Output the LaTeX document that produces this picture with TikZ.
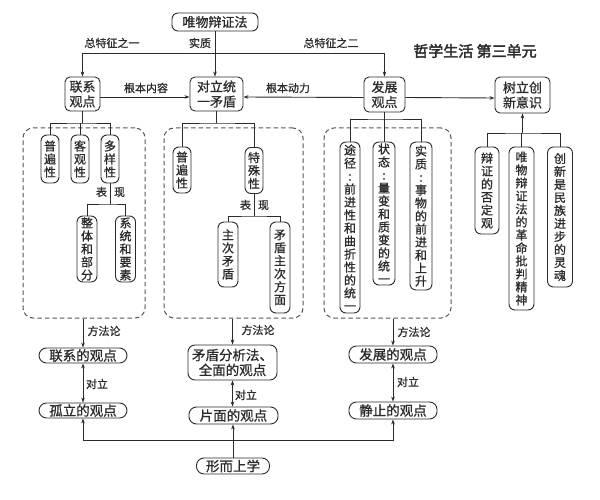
\documentclass[tikz,border=0pt]{standalone}
\usepackage{fontspec}
\setmainfont[FakeBold=0.9]{Noto Sans CJK SC}
\newfontfamily\titlefont[FakeBold=2.5]{Noto Sans CJK SC}
\usetikzlibrary{arrows.meta}
\definecolor{ink}{HTML}{2B2B2B}
\definecolor{dash}{HTML}{555555}
\begin{document}
\begin{tikzpicture}[x=1pt,y=-1pt,
  line width=0.9pt, draw=ink,
  arr/.style={draw=ink, -{Stealth[length=5pt,width=3.6pt]}},
  darr/.style={draw=ink, {Stealth[length=5pt,width=3.6pt]}-{Stealth[length=5pt,width=3.6pt]}},
  box/.style={draw=ink, rounded corners=5pt, inner sep=1pt, align=center, text=ink,
    font={\fontsize{13}{15}\selectfont}},
  vbox/.style={draw=ink, rounded corners=6pt, inner sep=1pt, align=center, text=ink,
    font={\fontsize{12}{13}\selectfont}},
  pill/.style={draw=ink, rounded corners=7.5pt, inner sep=1pt, align=center, text=ink,
    font={\fontsize{13.5}{15}\selectfont}},
  lbl/.style={inner sep=0pt, text=ink, font={\fontsize{11}{13}\selectfont}},
  dbox/.style={draw=dash, dashed, dash pattern=on 4.5pt off 3pt, rounded corners=10pt, line width=1pt}
]
\fill[white] (0,0) rectangle (600,500);
\useasboundingbox (0,0) rectangle (600,500);

% title
\node[inner sep=0pt, text=ink, font={\titlefont\fontsize{15}{17}\selectfont}] (title) at (475,51) {哲学生活 第三单元};

% top row
\node[box, minimum width=86, minimum height=18, rounded corners=6pt] (wb) at (215,22) {唯物辩证法};
\node[box, minimum width=35, minimum height=34] (lx) at (82.5,94) {联系\\观点};
\node[box, minimum width=53, minimum height=34] (dl) at (216.5,94) {对立统\\一矛盾};
\node[box, minimum width=41, minimum height=35] (fz) at (384.5,94.5) {发展\\观点};
\node[box, minimum width=55, minimum height=36] (sl) at (522.5,95) {树立创\\新意识};

\coordinate (tb) at (215,53);
\draw[arr] (wb.south) -- (wb.south |- dl.north);
\draw[arr] (tb) -| (lx.north);
\draw[arr] (tb) -| (fz.north);
\draw[arr] ([yshift=-3pt]lx.east) -- ([yshift=-3pt]dl.west);
\draw[arr] ([yshift=-3pt]fz.west) -- ([yshift=-3pt]dl.east);
\draw[arr] ([yshift=-3pt]fz.east) -- ([yshift=-3pt]sl.west);

\node[lbl] (l1) at (200,43) {实质};
\node[lbl] (l2) at (112,43) {总特征之一};
\node[lbl] (l3) at (331,43) {总特征之二};
\node[lbl] (l4) at (146,88) {根本内容};
\node[lbl] (l5) at (288,88) {根本动力};

% dashed groups
\node[dbox, minimum width=122, minimum height=190] (g1) at (84,223) {};
\node[dbox, minimum width=139, minimum height=190] (g2) at (233.5,223) {};
\node[dbox, minimum width=127, minimum height=190] (g3) at (387.5,223) {};

% left group
\node[vbox, minimum width=18, minimum height=48] (p1) at (50,159) {普\\遍\\性};
\node[vbox, minimum width=18, minimum height=48] (k1) at (80,159) {客\\观\\性};
\node[vbox, minimum width=18, minimum height=48] (y1) at (110,159) {多\\样\\性};
\node[vbox, minimum width=20, minimum height=66] (zt) at (87,249) {整\\体\\和\\部\\分};
\node[vbox, minimum width=20, minimum height=66] (xt) at (125.5,249) {系\\统\\和\\要\\素};
\coordinate (b1) at (82.5,123);
\draw (lx.south) -- (b1);
\draw (p1.north) |- (b1) -| (y1.north);
\draw (k1.north) -- (k1.north |- b1);
\coordinate (b1b) at (110,204);
\draw (y1.south) -- (b1b);
\draw (zt.north) |- (b1b) -| (xt.north);
\node[lbl] (bx1) at (110.5,192) {表\hspace{7pt}现};

% middle group
\node[vbox, minimum width=18, minimum height=46] (p2) at (182,170) {普\\遍\\性};
\node[vbox, minimum width=18, minimum height=46] (ts) at (254,170.5) {特\\殊\\性};
\node[vbox, minimum width=20, minimum height=65] (zc) at (228,254.5) {主\\次\\矛\\盾};
\node[vbox, minimum width=20, minimum height=91] (mf) at (280,267.5) {矛\\盾\\主\\次\\方\\面};
\coordinate (b2) at (216.5,123);
\draw (dl.south) -- (b2);
\draw (p2.north) |- (b2) -| (ts.north);
\coordinate (b2b) at (254,216);
\draw (ts.south) -- (b2b);
\draw (zc.north) |- (b2b) -| (mf.north);
\node[lbl] (bx2) at (254.5,205) {表\hspace{7pt}现};

% right group
\node[vbox, minimum width=20, minimum height=171] (tj) at (350,227.5) {途\\径\\:\\前\\进\\性\\和\\曲\\折\\性\\的\\统\\一};
\node[vbox, minimum width=22, minimum height=143] (zs) at (384,213.5) {状\\态\\:\\量\\变\\和\\质\\变\\的\\统\\一};
\node[vbox, minimum width=22, minimum height=148] (sz) at (421,216) {实\\质\\:\\事\\物\\的\\前\\进\\和\\上\\升};
\coordinate (b3) at (384.5,119);
\draw (fz.south) -- (b3);
\draw (tj.north) |- (b3) -| (sz.north);
\draw (zs.north) -- (zs.north |- b3);

% far right
\node[vbox, minimum width=24, minimum height=87] (bz) at (487,190.5) {辩\\证\\的\\否\\定\\观};
\node[vbox, minimum width=25, minimum height=163] (wg) at (521.5,228.5) {唯\\物\\辩\\证\\法\\的\\革\\命\\批\\判\\精\\神};
\node[vbox, minimum width=25, minimum height=140] (cx) at (560,217) {创\\新\\是\\民\\族\\进\\步\\的\\灵\\魂};
\coordinate (b4) at (522.5,133);
\draw (bz.north) |- (b4) -| (cx.north);
\draw (wg.north) -- (wg.north |- b4);
\draw[arr] (b4) -- (sl.south);

% bottom
\node[pill, minimum width=88, minimum height=15] (lg) at (83,355.5) {联系的观点};
\node[pill, minimum width=88, minimum height=15] (gl) at (83,410.5) {孤立的观点};
\node[box, minimum width=89, minimum height=35, rounded corners=7pt, font={\fontsize{13.5}{15}\selectfont}] (mx) at (232.5,362.5) {矛盾分析法、\\全面的观点};
\node[pill, minimum width=89, minimum height=17] (pm) at (233.5,415.5) {片面的观点};
\node[pill, minimum width=88, minimum height=17] (fg) at (393,354.5) {发展的观点};
\node[pill, minimum width=88, minimum height=17] (jz) at (393,410.5) {静止的观点};
\node[pill, minimum width=73, minimum height=16] (xs) at (233,466) {形而上学};

\draw[arr] (g1.south -| lg.north) -- (lg.north);
\draw[arr] (g2.south -| mx.north) -- (mx.north);
\draw[arr] (g3.south -| fg.north) -- (fg.north);
\node[lbl] (m1) at (104,331) {方法论};
\node[lbl] (m2) at (258,330) {方法论};
\node[lbl] (m3) at (414,332) {方法论};

\draw[darr] (lg.south) -- (gl.north);
\draw[darr] (mx.south) -- (mx.south |- pm.north);
\draw[darr] (fg.south) -- (jz.north);
\node[lbl] (o1) at (97,384) {对立};
\node[lbl] (o2) at (246,395) {对立};
\node[lbl] (o3) at (408,382) {对立};

\coordinate (bb) at (233,440);
\draw[arr] (bb) -| (gl.south);
\draw[arr] (bb) -| (jz.south);
\draw[arr] (xs.north) -- (xs.north |- pm.south);
\end{tikzpicture}
\end{document}
